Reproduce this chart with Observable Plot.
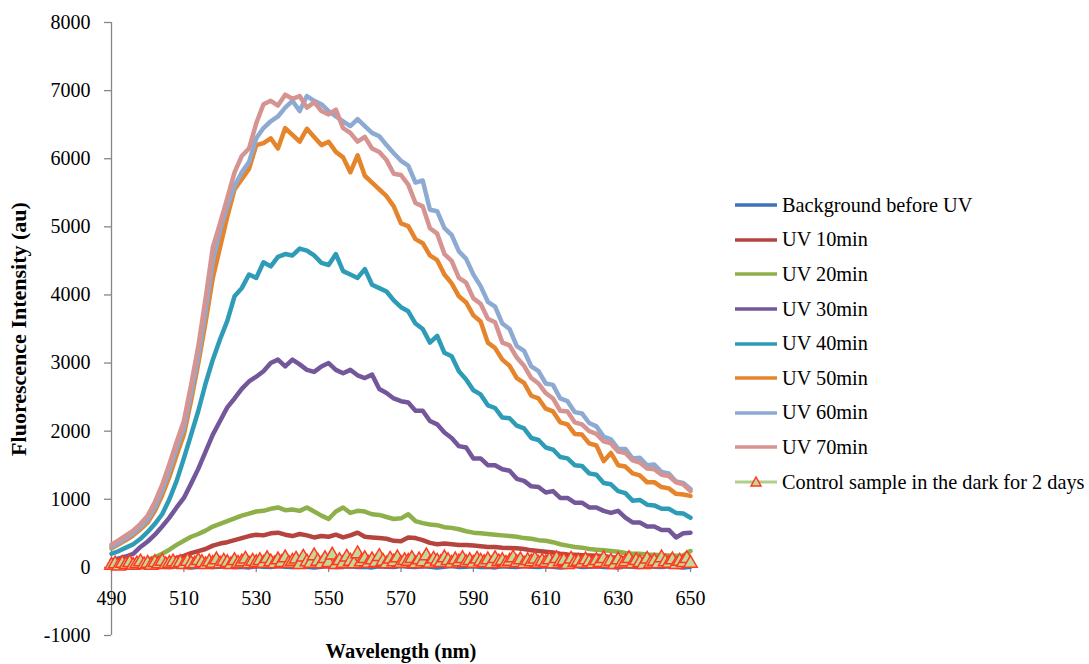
<!DOCTYPE html>
<html>
<head>
<meta charset="utf-8">
<script src="https://cdn.jsdelivr.net/npm/d3@7"></script>
<script src="https://cdn.jsdelivr.net/npm/@observablehq/plot@0.6"></script>
<style>
  html, body { margin: 0; padding: 0; background: #fff; }
  #wrap { position: relative; width: 1089px; height: 664px; font-family: "Liberation Serif", "Times New Roman", serif; }
  #legend { position: absolute; left: 735px; top: 188px; font-size: 20.3px; color: #000; }
  .row { height: 34.6px; display: flex; align-items: center; white-space: nowrap; }
  .row svg { margin-right: 1px; }
</style>
</head>
<body>
<div id="wrap"><div id="legend"></div></div>
<script>
// ---------- data ----------
const seriesNames = ["Background before UV", "UV 10min", "UV 20min", "UV 30min", "UV 40min", "UV 50min", "UV 60min", "UV 70min"];
const seriesColors = ["#3D73B8", "#B5443F", "#8DB04A", "#74579A", "#2E9CB6", "#E5842A", "#8DAAD3", "#D59391"];
const controlName = "Control sample in the dark for 2 days";

const xTicks = [490, 510, 530, 550, 570, 590, 610, 630, 650];
const yTicks = [-1000, 0, 1000, 2000, 3000, 4000, 5000, 6000, 7000, 8000];

// wavelengths 490..650 nm every 2 nm
const wavelengths = d3.range(490, 651, 2);

const background = [10,5,15,0,10,5,20,10,5,15,10,0,10,20,5,10,15,5,10,0,
  15,10,5,20,10,5,15,10,0,10,20,5,10,15,5,10,0,15,10,5,
  20,10,5,15,10,0,10,20,5,10,15,5,10,0,15,10,5,20,10,5,
  15,10,0,10,20,5,10,15,5,10,0,15,10,5,20,10,5,15,10,0,10];

const uv10 = [10,15,20,25,30,40,60,80,110,140,170,210,240,270,320,350,370,400,430,460,
  480,470,500,510,480,460,490,470,440,460,450,480,440,470,510,450,440,430,420,390,
  385,440,430,400,360,340,350,340,330,330,320,310,300,300,290,285,280,270,250,240,
  230,220,200,190,185,180,175,170,165,150,140,130,125,120,115,110,105,100,95,90,90];

const uv20 = [20,30,40,50,80,110,150,200,260,330,390,450,490,540,600,640,680,720,760,790,
  820,830,860,880,840,850,830,880,820,760,710,820,880,800,830,820,780,770,740,710,
  720,780,680,650,630,620,590,580,560,530,510,500,490,480,470,460,450,430,420,400,
  390,370,340,320,300,290,270,260,250,240,230,210,200,200,190,185,180,175,170,175,240];

const uv30 = [100,130,160,200,300,380,480,600,730,880,1020,1230,1450,1700,1950,2150,2350,2480,2620,2730,
  2800,2880,3000,3050,2950,3050,2980,2900,2870,2950,3000,2900,2850,2900,2820,2780,2830,2620,2560,2480,
  2440,2420,2300,2300,2150,2100,1980,1900,1780,1760,1600,1600,1500,1500,1440,1420,1300,1270,1190,1180,
  1100,1120,1020,1020,950,950,880,880,830,800,830,730,660,660,600,600,550,550,440,500,510];

const uv40 = [200,240,290,340,420,520,640,780,1000,1270,1600,1950,2300,2700,3050,3350,3620,3980,4100,4300,
  4250,4480,4420,4560,4600,4580,4680,4650,4580,4470,4440,4600,4350,4300,4250,4380,4150,4100,4050,3920,
  3820,3760,3580,3500,3300,3400,3150,3100,2880,2760,2600,2540,2380,2340,2200,2190,2080,2040,1900,1870,
  1760,1730,1620,1600,1500,1490,1380,1360,1240,1220,1120,1090,980,990,920,910,860,860,800,790,730];

const uv50 = [280,340,400,470,560,660,830,1060,1330,1650,1950,2450,3000,3600,4250,4700,5150,5550,5700,5850,
  6200,6230,6300,6150,6450,6350,6250,6440,6320,6200,6250,6100,6020,5800,6050,5750,5650,5550,5450,5300,
  5050,5010,4820,4760,4580,4510,4300,4170,3980,3890,3700,3610,3300,3220,3050,2960,2780,2710,2520,2480,
  2330,2290,2130,2100,1960,1950,1820,1790,1560,1680,1500,1480,1380,1350,1250,1250,1180,1160,1080,1070,1050];

const uv60 = [300,360,430,500,590,700,880,1130,1420,1750,2050,2550,3100,3750,4500,4950,5300,5600,5800,5950,
  6300,6450,6550,6620,6750,6850,6700,6920,6850,6800,6700,6620,6550,6480,6580,6480,6380,6330,6200,6080,
  5970,5900,5650,5680,5250,5230,4980,4880,4640,4530,4300,4130,3900,3830,3580,3500,3250,3180,2950,2880,
  2700,2680,2480,2440,2280,2260,2120,2070,1920,1880,1740,1740,1600,1610,1500,1510,1400,1380,1260,1240,1150];

const uv70 = [335,400,470,540,640,760,960,1210,1520,1840,2150,2680,3250,3950,4700,5050,5420,5800,6040,6150,
  6520,6800,6850,6780,6940,6880,6920,6750,6830,6700,6650,6720,6450,6380,6250,6320,6150,6100,5980,5780,
  5760,5620,5350,5300,4980,4900,4600,4500,4250,4180,3950,3870,3650,3600,3300,3260,3080,2960,2780,2700,
  2560,2480,2300,2290,2130,2100,2000,1960,1850,1820,1700,1680,1570,1540,1450,1440,1360,1340,1250,1220,1120];

// control: every 1 nm, 490..650
const controlWavelengths = d3.range(490, 651, 1);
const control = [30,50,20,60,40,70,30,50,80,40,60,30,70,50,90,40,60,80,50,70,
  40,90,60,50,100,70,40,80,60,110,50,90,70,40,100,60,80,120,50,90,
  70,100,60,130,80,50,110,70,140,60,90,120,40,150,80,60,170,90,50,130,
  70,180,40,100,60,150,90,50,200,80,130,60,110,70,160,90,50,120,80,140,
  60,100,90,130,50,110,80,170,60,120,90,70,140,100,60,110,80,130,70,100,
  60,120,90,70,110,50,130,80,100,60,90,140,70,110,50,100,80,120,60,90,
  70,110,50,130,80,100,40,120,70,90,60,110,80,50,100,70,130,60,90,40,
  110,60,80,130,50,100,70,40,120,60,90,50,140,80,60,110,40,90,70,130,60];

const seriesValues = [background, uv10, uv20, uv30, uv40, uv50, uv60, uv70];

// ---------- build tidy rows ----------
const rows = [];
seriesNames.forEach((name, s) => {
  seriesValues[s].forEach((v, i) => rows.push({series: name, wl: wavelengths[i], v}));
});
const controlRows = control.map((v, i) => ({wl: controlWavelengths[i], v}));

const axisColor = "#868686";
const font = "Liberation Serif";

const chart = Plot.plot({
  width: 1089,
  height: 664,
  marginLeft: 111,
  marginRight: 399,
  marginTop: 22,
  marginBottom: 29,
  style: {fontFamily: font, fontSize: "20px", background: "transparent", overflow: "visible"},
  x: {type: "linear", domain: [490, 650], axis: null},
  y: {type: "linear", domain: [-1000, 8000], axis: null},
  color: {domain: seriesNames, range: seriesColors},
  marks: [
    Plot.ruleX([490], {y1: -1000, y2: 8000, stroke: axisColor, strokeWidth: 1.3}),
    Plot.axisY({ticks: yTicks, tickSize: 7, tickPadding: 14, stroke: axisColor, strokeWidth: 1.3, label: null, fontSize: 20, fill: "#000", tickFormat: d => String(d)}),
    Plot.ruleY([0], {x1: 490, x2: 650, stroke: axisColor, strokeWidth: 1.3}),
    Plot.ruleX(xTicks, {y1: 0, y2: -75, stroke: axisColor, strokeWidth: 1.3}),
    Plot.text(xTicks, {x: d => d, y: 0, dy: 31, text: d => String(d), fontSize: 20, fill: "#000"}),
    Plot.line(rows, {x: "wl", y: "v", z: "series", stroke: "series", strokeWidth: 4.5, strokeLinejoin: "round", strokeLinecap: "round"}),
    Plot.line(controlRows, {x: "wl", y: "v", stroke: "#B3CD8A", strokeWidth: 2.5}),
    Plot.dot(controlRows, {x: "wl", y: "v", symbol: "triangle", r: 5, stroke: "#FF3A1F", fill: "#C4D79B", strokeWidth: 1.5}),
    Plot.text(["Fluorescence Intensity (au)"], {frameAnchor: "left", textAnchor: "middle", dx: -93, rotate: -90, fontWeight: "bold", fontSize: 22, fill: "#000", style: "letter-spacing:0.5px"}),
    Plot.text(["Wavelength (nm)"], {frameAnchor: "bottom", lineAnchor: "middle", dy: 16, fontWeight: "bold", fontSize: 20.5, fill: "#000"})
  ]
});
chart.style.position = "absolute";
chart.style.left = "0";
chart.style.top = "0";
const wrap = document.getElementById("wrap");
wrap.insertBefore(chart, wrap.firstChild);

// ---------- legend ----------
const legend = document.getElementById("legend");
seriesNames.forEach((name, s) => {
  const row = document.createElement("div");
  row.className = "row";
  row.innerHTML = `<svg width="46" height="12"><line x1="0" y1="6" x2="42" y2="6" stroke="${seriesColors[s]}" stroke-width="3.5"/></svg><span>${name}</span>`;
  legend.appendChild(row);
});
const crow = document.createElement("div");
crow.className = "row";
crow.innerHTML = `<svg width="46" height="14"><line x1="0" y1="7" x2="42" y2="7" stroke="#B3CD8A" stroke-width="3"/><path d="M21,2 L26,11 L16,11 Z" fill="#C4D79B" stroke="#FF3A1F" stroke-width="1.5"/></svg><span>${controlName}</span>`;
legend.appendChild(crow);
</script>
</body>
</html>
